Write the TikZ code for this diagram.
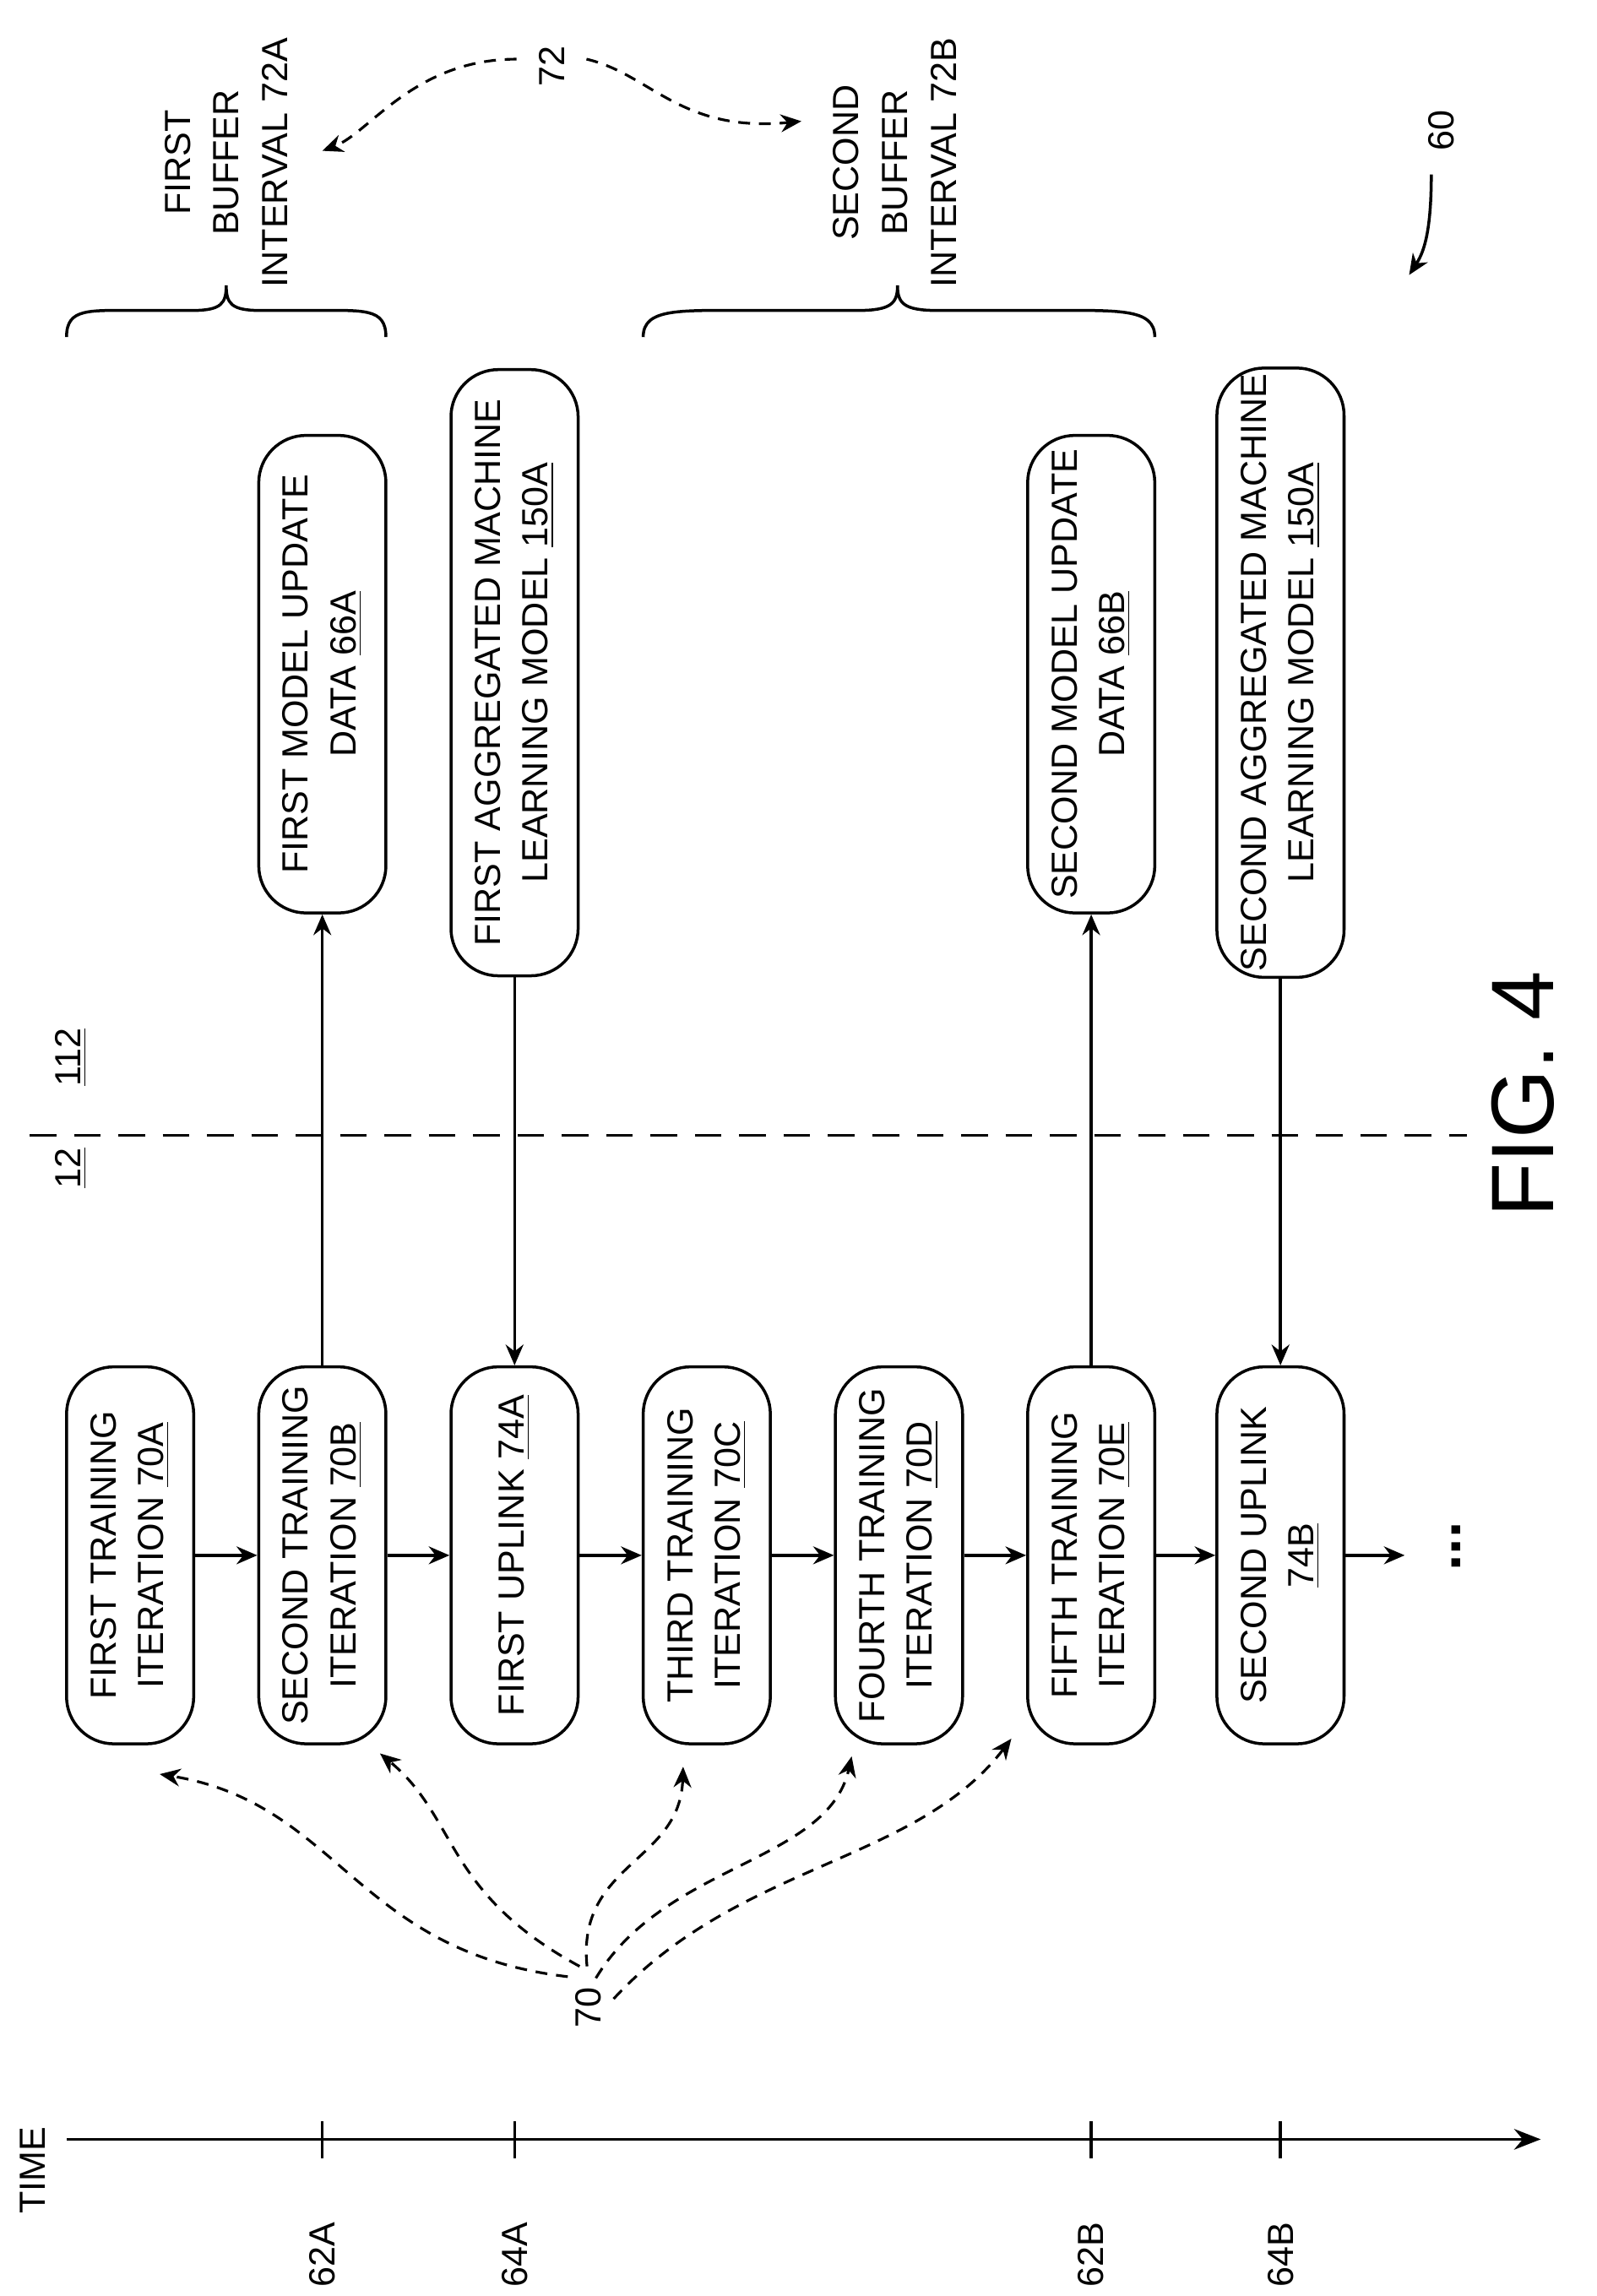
\documentclass[tikz,border=0pt]{standalone}
\usepackage{fontspec}
\setmainfont{Liberation Sans}
\usetikzlibrary{arrows.meta,decorations.pathreplacing}
\begin{document}
\begin{tikzpicture}[x=0.5pt,y=-0.5pt,
  box/.style={draw,line width=1pt,rounded corners=16pt,rotate=90,align=center,inner sep=2pt,font=\fontsize{12.3}{16}\selectfont},
  lbl/.style={rotate=90,align=center,font=\fontsize{12.3}{16.5}\selectfont},
  arr/.style={line width=1pt,-{Stealth[length=7pt,width=6pt]}},
  dsh/.style={line width=0.9pt,dashed,dash pattern=on 4pt off 3pt,-{Stealth[length=7pt,width=6pt]}}]
\useasboundingbox (0,0) rectangle (1080,1553);
% bottom row
\foreach \n/\x/\t in {a/88/{FIRST TRAINING\\ITERATION \underline{70A}},
  b/218/{SECOND TRAINING\\ITERATION \underline{70B}},
  u1/348/{FIRST UPLINK \underline{74A}},
  c/478/{THIRD TRAINING\\ITERATION \underline{70C}},
  d/608/{FOURTH TRAINING\\ITERATION \underline{70D}},
  e/738/{FIFTH TRAINING\\ITERATION \underline{70E}},
  u2/866/{SECOND UPLINK\\\underline{74B}}}
  \node[box,minimum width=127.5pt,minimum height=43pt] (\n) at (\x,1052) {\t};
\node[box,minimum width=161.5pt,minimum height=43pt] (m1) at (218,456) {FIRST MODEL UPDATE\\DATA \underline{66A}};
\node[box,minimum width=205pt,minimum height=43pt] (g1) at (348,455) {FIRST AGGREGATED MACHINE\\LEARNING MODEL \underline{150A}};
\node[box,minimum width=161.5pt,minimum height=43pt] (m2) at (738,456) {SECOND MODEL UPDATE\\DATA \underline{66B}};
\node[box,minimum width=205pt,minimum height=43pt] (g2) at (866,455) {SECOND AGGREGATED MACHINE\\LEARNING MODEL \underline{150A}};
\foreach \p/\q in {a/b,b/u1,u1/c,c/d,d/e,e/u2} \draw[arr] (\p) -- (\q);
\coordinate (dend) at (950,1052);
\draw[arr] (u2) -- (dend);
\node[font=\fontsize{20}{20}\selectfont\bfseries,rotate=90] (dots) at (985,1046) {...};
\draw[arr] (b) -- (m1);
\draw[arr] (g1) -- (u1);
\draw[arr] (e) -- (m2);
\draw[arr] (g2) -- (u2);
% dashed divider
\coordinate (l1) at (20,768); \coordinate (l2) at (992,768);
\draw[line width=1pt,dash pattern=on 9pt off 6pt] (l1) -- (l2);
\node[lbl] (n12) at (48,790) {\underline{12}};
\node[lbl] (n112) at (48,715) {\underline{112}};
% braces
\draw[line width=1pt] (45,228) .. controls (45,208) and (60,210) .. (95,210) -- (130,210) .. controls (150,210) and (153,205) .. (153,193)
  .. controls (153,205) and (156,210) .. (176,210) -- (211,210) .. controls (246,210) and (261,208) .. (261,228);
\draw[line width=1pt] (435,228) .. controls (435,208) and (460,210) .. (510,210) -- (580,210) .. controls (603,210) and (607,205) .. (607,193)
  .. controls (607,205) and (611,210) .. (634,210) -- (704,210) .. controls (756,210) and (781,208) .. (781,228);
\node[lbl] (b1) at (153,110) {FIRST\\BUFFER\\INTERVAL 72A};
\node[lbl] (b2) at (605,110) {SECOND\\BUFFER\\INTERVAL 72B};
\node[lbl] (n72) at (373,45) {72};
\coordinate (t1) at (218,102); \coordinate (t2) at (542,82);
\draw[dsh] (n72.north) ++(-8,-5) .. controls (280,40) and (250,90) .. (t1);
\draw[dsh] (n72.south) ++(8,-5) .. controls (440,50) and (460,90) .. (t2);
\node[lbl] (n60) at (975,88) {60};
\coordinate (t60) at (953,186);
\draw[arr] (968,118) .. controls (968,160) and (962,172) .. (t60);
% 70 labels
\node[lbl] (n70) at (398,1358) {70};
\coordinate (p1) at (108,1200); \coordinate (p2) at (257,1186);
\coordinate (p3) at (462,1195); \coordinate (p4) at (576,1188); \coordinate (p5) at (684,1176);
\draw[dsh] (384,1337) .. controls (240,1320) and (230,1220) .. (p1);
\draw[dsh] (392,1330) .. controls (300,1280) and (310,1230) .. (p2);
\draw[dsh] (397,1330) .. controls (390,1260) and (460,1260) .. (p3);
\draw[dsh] (403,1338) .. controls (450,1260) and (560,1260) .. (p4);
\draw[dsh] (415,1352) .. controls (500,1260) and (620,1260) .. (p5);
% time axis
\coordinate (ax0) at (45,1447); \coordinate (ax1) at (1042,1447);
\draw[line width=1pt,-{Stealth[length=9pt,width=7pt]}] (ax0) -- (ax1);
\node[lbl] (time) at (22,1468) {TIME};
\foreach \x/\t in {218/62A,348/64A,738/62B,866/64B}{
  \draw[line width=1pt] (\x,1435) -- (\x,1460);
  \node[lbl] at (\x,1525) {\t};}
\node[rotate=90,font=\fontsize{30}{30}\selectfont] (fig) at (1030,740) {FIG. 4};
\end{tikzpicture}
\end{document}
